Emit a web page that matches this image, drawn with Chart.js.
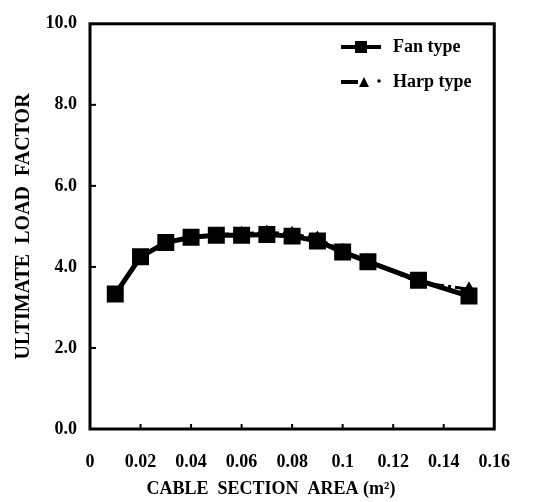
<!DOCTYPE html>
<html>
<head>
<meta charset="utf-8">
<script src="https://cdn.jsdelivr.net/npm/chart.js@4.4.1/dist/chart.umd.min.js"></script>
<style>
html,body{margin:0;padding:0;background:#fff;}
#wrap{width:533px;height:502px;position:relative;}
</style>
</head>
<body>
<div id="wrap"><canvas id="c" width="533" height="502"></canvas></div>
<script>
const areas = [0.01, 0.02, 0.03, 0.04, 0.05, 0.06, 0.07, 0.08, 0.09, 0.10, 0.11, 0.13, 0.15];
const fanType = [3.33, 4.25, 4.60, 4.73, 4.78, 4.78, 4.80, 4.76, 4.64, 4.37, 4.13, 3.67, 3.28];
const harpType = [3.30, 4.25, 4.60, 4.75, 4.80, 4.82, 4.85, 4.82, 4.70, 4.40, 4.15, 3.62, 3.45];
const xTicks = [0, 0.02, 0.04, 0.06, 0.08, 0.1, 0.12, 0.14, 0.16];
const xTickLabels = ["0", "0.02", "0.04", "0.06", "0.08", "0.1", "0.12", "0.14", "0.16"];
const yTicks = [0, 2, 4, 6, 8, 10];
const yTickLabels = ["0.0", "2.0", "4.0", "6.0", "8.0", "10.0"];
const seriesNames = ["Fan type", "Harp type"];
const xTitle = "CABLE  SECTION  AREA (m\u00B2)";
const yTitle = "ULTIMATE  LOAD  FACTOR";

const FONT = "'Liberation Serif', 'Times New Roman', serif";

const toXY = (ys) => areas.map((x, i) => ({x: x, y: ys[i]}));

const inwardTicks = {
  id: 'inwardTicks',
  afterDatasetsDraw(chart) {
    const ctx = chart.ctx;
    const xs = chart.scales.x, ys = chart.scales.y;
    const a = chart.chartArea;
    ctx.save();
    ctx.strokeStyle = '#000';
    ctx.lineWidth = 2;
    xTicks.forEach(v => {
      if (v <= 0 || v >= 0.16) return;
      const px = xs.getPixelForValue(v);
      ctx.beginPath(); ctx.moveTo(px, a.bottom); ctx.lineTo(px, a.bottom - 5); ctx.stroke();
    });
    yTicks.forEach(v => {
      if (v <= 0 || v >= 10) return;
      const py = ys.getPixelForValue(v);
      ctx.beginPath(); ctx.moveTo(a.left, py); ctx.lineTo(a.left + 6, py); ctx.stroke();
    });
    ctx.lineWidth = 3;
    ctx.strokeRect(a.left, a.top, a.right - a.left, a.bottom - a.top);
    ctx.restore();
  }
};

const xTitlePlugin = {
  id: 'xTitlePlugin',
  afterDraw(chart) {
    const ctx = chart.ctx;
    ctx.save();
    ctx.fillStyle = '#000';
    ctx.font = "bold 18px " + FONT;
    ctx.textAlign = 'center';
    ctx.textBaseline = 'middle';
    ctx.fillText(xTitle, 271, 489);
    ctx.restore();
  }
};

const customLegend = {
  id: 'customLegend',
  afterDraw(chart) {
    const ctx = chart.ctx;
    ctx.save();
    const rowY = [47, 82];
    chart.data.datasets.forEach((ds) => {
      const i = seriesNames.indexOf(ds.label);
      const y = rowY[i];
      const x0 = 341, x1 = 381;
      ctx.strokeStyle = '#000';
      ctx.fillStyle = '#000';
      if (i === 0) {
        ctx.lineWidth = 4;
        ctx.beginPath(); ctx.moveTo(x0, y); ctx.lineTo(x1, y); ctx.stroke();
        ctx.fillRect(355, y - 6, 12, 12);
      } else {
        ctx.lineWidth = 4;
        ctx.beginPath(); ctx.moveTo(x0, y); ctx.lineTo(358, y); ctx.stroke();
        ctx.beginPath(); ctx.moveTo(359, y + 5); ctx.lineTo(364, y - 5); ctx.lineTo(369, y + 5); ctx.closePath(); ctx.fill();
        ctx.beginPath(); ctx.arc(379, y - 1, 1.8, 0, Math.PI * 2); ctx.fill();
      }
      ctx.font = "bold 18px " + FONT;
      ctx.textBaseline = 'middle';
      ctx.textAlign = 'left';
      ctx.fillText(ds.label, 393, y);
    });
    ctx.restore();
  }
};

new Chart(document.getElementById('c'), {
  type: 'scatter',
  data: {
    datasets: [
      {
        label: seriesNames[1],
        data: toXY(harpType),
        showLine: true,
        borderColor: '#000',
        backgroundColor: '#000',
        borderWidth: 3,
        borderDash: [14, 4, 3, 4],
        pointStyle: 'triangle',
        pointRadius: 8,
        pointBorderWidth: 0,
        order: 2
      },
      {
        label: seriesNames[0],
        data: toXY(fanType),
        showLine: true,
        borderColor: '#000',
        backgroundColor: '#000',
        borderWidth: 5,
        pointStyle: 'rect',
        pointRadius: 12,
        pointBorderWidth: 0,
        order: 1
      }
    ]
  },
  options: {
    responsive: false,
    animation: false,
    devicePixelRatio: 1,
    layout: {padding: {left: 0, right: 35, top: 15, bottom: 0}},
    plugins: {legend: {display: false}, tooltip: {enabled: false}},
    scales: {
      x: {
        type: 'linear',
        min: 0, max: 0.16,
        afterBuildTicks: (s) => { s.ticks = xTicks.map(v => ({value: v})); },
        afterFit: (s) => { s.height = 73; },
        grid: {display: false, drawTicks: false},
        border: {display: false},
        ticks: {
          color: '#000',
          padding: 23,
          maxRotation: 0,
          autoSkip: false,
          font: {family: FONT, size: 18, weight: 'bold'},
          callback: (v) => { const i = xTicks.findIndex(t => Math.abs(t - v) < 1e-9); return i >= 0 ? xTickLabels[i] : ''; }
        },
        title: {display: false}
      },
      y: {
        type: 'linear',
        min: 0, max: 10,
        afterBuildTicks: (s) => { s.ticks = yTicks.map(v => ({value: v})); },
        afterFit: (s) => { s.width = 90; },
        grid: {display: false, drawTicks: false},
        border: {display: false},
        ticks: {
          color: '#000',
          padding: 13,
          autoSkip: false,
          font: {family: FONT, size: 18, weight: 'bold'},
          callback: (v) => { const i = yTicks.indexOf(v); return i >= 0 ? yTickLabels[i] : ''; }
        },
        title: {
          display: true,
          text: yTitle,
          color: '#000',
          font: {family: FONT, size: 20, weight: 'bold'},
          padding: {top: 12, bottom: 0}
        }
      }
    }
  },
  plugins: [inwardTicks, customLegend, xTitlePlugin]
});
</script>
</body>
</html>
